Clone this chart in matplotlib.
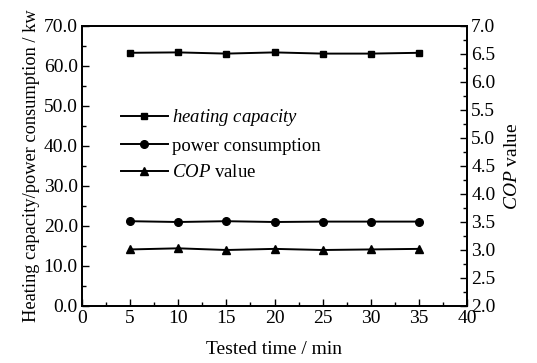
import matplotlib
matplotlib.use("Agg")
import matplotlib.pyplot as plt
from matplotlib.ticker import MultipleLocator

plt.rcParams['font.family'] = ['Liberation Serif', 'DejaVu Serif']
plt.rcParams['mathtext.fontset'] = 'custom'
plt.rcParams['mathtext.rm'] = 'Liberation Serif'
plt.rcParams['mathtext.it'] = 'Liberation Serif:italic'

time_min = [5, 10, 15, 20, 25, 30, 35]
heating_capacity = [63.3, 63.4, 63.1, 63.4, 63.1, 63.1, 63.3]
power_consumption = [21.2, 21.0, 21.2, 21.0, 21.1, 21.1, 21.1]
cop_value = [3.01, 3.03, 3.00, 3.02, 3.00, 3.01, 3.02]

fig = plt.figure(figsize=(5.37, 3.63), dpi=100)
ax = fig.add_axes([82/537, 1 - 306/363, 385/537, 280/363])
ax2 = ax.twinx()

fs = 14
lw = 1.4
h1, = ax.plot(time_min, heating_capacity, color='black', marker='s', ms=5, lw=lw,
              label=r'$\mathit{heating\ capacity}$')
h2, = ax.plot(time_min, power_consumption, color='black', marker='o', ms=5.5, lw=lw,
              label='power consumption')
h3, = ax2.plot(time_min, cop_value, color='black', marker='^', ms=5.5, lw=lw,
               label=r'$\mathit{COP}$ value')

ax.set_xlim(0, 40)
ax.set_ylim(0, 70)
ax2.set_ylim(2.0, 7.0)
ax.xaxis.set_major_locator(MultipleLocator(5))
ax.xaxis.set_minor_locator(MultipleLocator(2.5))
ax.yaxis.set_major_locator(MultipleLocator(10))
ax.yaxis.set_minor_locator(MultipleLocator(5))
ax2.yaxis.set_major_locator(MultipleLocator(0.5))
ax2.yaxis.set_minor_locator(MultipleLocator(0.25))
ax.yaxis.set_major_formatter(plt.FormatStrFormatter('%.1f'))
ax2.yaxis.set_major_formatter(plt.FormatStrFormatter('%.1f'))

ax.tick_params(axis='both', which='both', direction='in', top=False, right=False,
               labelsize=fs, width=1.0, pad=3)
ax.tick_params(which='major', length=5)
ax.tick_params(which='minor', length=3)
ax2.tick_params(axis='y', which='both', direction='in', labelsize=fs, width=1.0, pad=3)
ax2.tick_params(which='major', length=5)
ax2.tick_params(which='minor', length=3)

for a in (ax, ax2):
    for s in a.spines.values():
        s.set_linewidth(1.3)

ax.set_xlabel('Tested time / min', fontsize=fs, labelpad=10)
ax.set_ylabel('Heating capacity/power consumption / kw', fontsize=13.2, labelpad=3)
ax2.set_ylabel(r'$\mathit{COP}$ value', fontsize=fs, labelpad=6)

ax.legend(handles=[h1, h2, h3], loc='upper left', bbox_to_anchor=(0.1, 0.71),
          frameon=False, fontsize=13.5, handlelength=2.55, handletextpad=0.2,
          labelspacing=0.5, borderaxespad=0, borderpad=0)

fig.savefig('out.png', dpi=100)
